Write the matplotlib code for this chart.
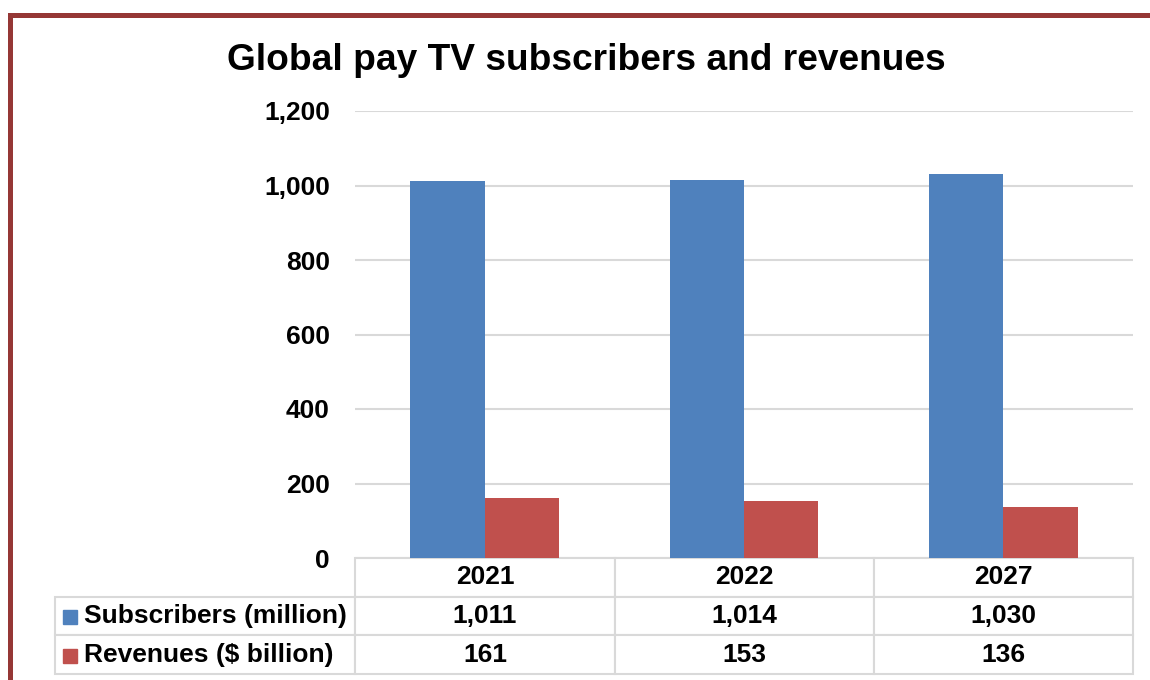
import numpy as np
import matplotlib.pyplot as plt
from matplotlib.patches import Rectangle

years = ["2021", "2022", "2027"]
subscribers = [1011, 1014, 1030]
revenues = [161, 153, 136]
series_names = ["Subscribers (million)", "Revenues ($ billion)"]
colors = ["#4F81BD", "#C0504D"]

plt.rcParams['font.family'] = ['Liberation Sans', 'DejaVu Sans']
plt.rcParams['font.weight'] = 'bold'

fig = plt.figure(figsize=(11.5, 6.8), dpi=100)
ax = fig.add_axes([355 / 1150, 1 - 558 / 680, 778 / 1150, 447 / 680])

x = np.arange(len(years))
w = 0.286
ax.bar(x - w / 2, subscribers, w, color=colors[0], zorder=3)
ax.bar(x + w / 2, revenues, w, color=colors[1], zorder=3)

ax.set_xlim(-0.5, len(years) - 0.5)
ax.set_ylim(0, 1200)
ax.set_yticks(range(0, 1201, 200))
ax.set_yticklabels([f"{v:,}" for v in range(0, 1201, 200)], fontsize=19, fontweight='bold')
ax.tick_params(axis='y', length=0, pad=18)
ax.set_xticks([])
ax.grid(axis='y', color='#D9D9D9', linewidth=1.5, zorder=0)
for s in ax.spines.values():
    s.set_visible(False)

# data table under the bars
cells = [[""] + years,
         [series_names[0]] + [f"{v:,}" for v in subscribers],
         [series_names[1]] + [f"{v:,}" for v in revenues]]
lab_w = 300 / 778
tbl = ax.table(cellText=cells, cellLoc='center',
               colWidths=[300, 259, 259, 259],
               bbox=[-lab_w, -116 / 447, 1 + lab_w, 116 / 447])
tbl.auto_set_font_size(False)
for (r, c), cell in tbl.get_celld().items():
    cell.set_edgecolor('#D9D9D9')
    cell.set_linewidth(1.5)
    cell.get_text().set_fontsize(19)
    cell.get_text().set_fontweight('bold')
    if c == 0:
        cell.get_text().set_ha('left')
        cell._loc = 'left'
        cell.PAD = 29 / 300
    if r == 0 and c == 0:
        cell.visible_edges = ''

# legend keys in the row labels
for i, col in enumerate(colors):
    yc = (-39 * (i + 1) - 19.5) / 447
    ax.add_patch(Rectangle((-lab_w + 8 / 778, yc - 7 / 447), 14 / 778, 14 / 447,
                           transform=ax.transAxes, color=col, clip_on=False, zorder=5))

fig.text(586 / 1150, 1 - 61 / 680, "Global pay TV subscribers and revenues",
         ha='center', va='center', fontsize=26.7, fontweight='bold')

fig.patches.append(Rectangle((9.5 / 1150, -0.2), 1.2, 1 - 14.5 / 680 + 0.2,
                             transform=fig.transFigure, fill=False,
                             edgecolor='#953735', linewidth=3.6))

fig.savefig("out.png", dpi=100)
